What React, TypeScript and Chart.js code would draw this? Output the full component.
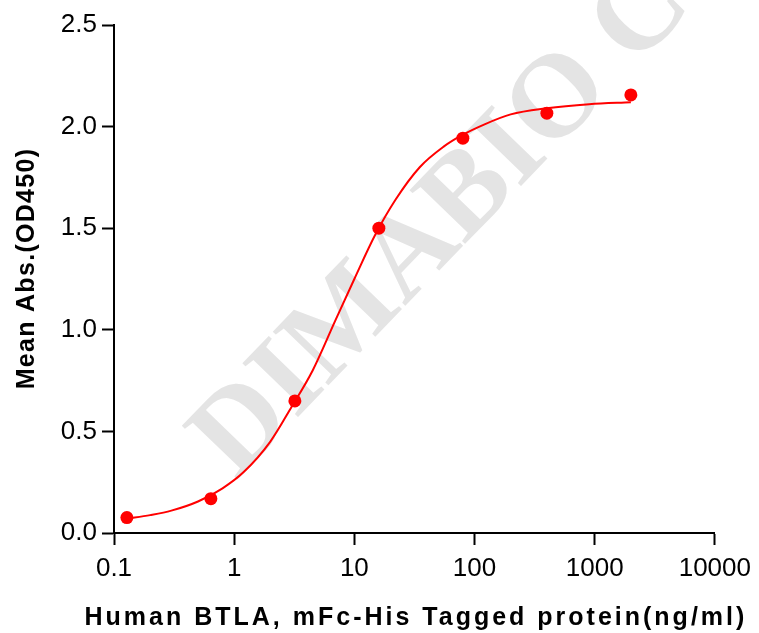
import React, { useEffect, useRef } from "react";
import { Chart, registerables } from "chart.js";

Chart.register(...registerables);

// Measured points
const concentrations = [0.128, 0.64, 3.2, 16, 80, 400, 2000];
const meanAbs = [0.076, 0.169, 0.65, 1.5, 1.943, 2.066, 2.156];

// Fitted curve
const fitX = [0.128, 0.2, 0.3, 0.5, 0.8, 1.2, 2, 3, 4.5, 7, 10, 15, 22, 35, 55, 80, 120, 200, 400, 900, 2000];
const fitY = [0.07, 0.088, 0.11, 0.155, 0.22, 0.3, 0.45, 0.62, 0.8, 1.05, 1.25, 1.47, 1.64, 1.8, 1.9, 1.96, 2.01, 2.06, 2.09, 2.11, 2.12];

const xTicks = [0.1, 1, 10, 100, 1000, 10000];
const xTickLabels = ["0.1", "1", "10", "100", "1000", "10000"];
const yTicks = [0, 0.5, 1, 1.5, 2, 2.5];
const yTickLabels = ["0.0", "0.5", "1.0", "1.5", "2.0", "2.5"];

const xTitle = "Human BTLA, mFc-His Tagged protein(ng/ml)";
const yTitle = "Mean Abs.(OD450)";
const watermark = "DIMABIO CO.,LTD";

const RED = "#ff0000";
const SANS = '"Liberation Sans", Arial, Helvetica, sans-serif';

const decorPlugin = {
  id: "decor",
  beforeDatasetsDraw(chart: any) {
    const ctx = chart.ctx;
    ctx.save();
    ctx.translate(236, 481);
    ctx.rotate((-46 * Math.PI) / 180);
    ctx.font = 'bold 118px "Liberation Serif", "Times New Roman", serif';
    ctx.fillStyle = "#e4e4e4";
    ctx.textAlign = "left";
    ctx.textBaseline = "alphabetic";
    ctx.fillText(watermark, 0, 0);
    ctx.restore();
  },
  afterDraw(chart: any) {
    const ctx = chart.ctx;
    const area = chart.chartArea;
    ctx.save();
    ctx.fillStyle = "#000";
    ctx.font = "bold 25px " + SANS;
    (ctx as any).letterSpacing = "3px";
    ctx.textAlign = "center";
    ctx.textBaseline = "alphabetic";
    ctx.fillText(xTitle, (area.left + area.right) / 2 + 1.5, 625);
    ctx.restore();

    ctx.save();
    ctx.fillStyle = "#000";
    ctx.font = "bold 25px " + SANS;
    (ctx as any).letterSpacing = "1.3px";
    ctx.translate(33.5, 268.5);
    ctx.rotate(-Math.PI / 2);
    ctx.textAlign = "center";
    ctx.textBaseline = "alphabetic";
    ctx.fillText(yTitle, 0, 0);
    ctx.restore();
  },
};

export default function App() {
  const canvasRef = useRef<HTMLCanvasElement | null>(null);

  useEffect(() => {
    if (!canvasRef.current) return;
    const chart = new Chart(canvasRef.current, {
      type: "scatter",
      data: {
        datasets: [
          {
            type: "scatter",
            data: concentrations.map((x, i) => ({ x, y: meanAbs[i] })),
            backgroundColor: RED,
            borderColor: RED,
            borderWidth: 0,
            pointRadius: 6.5,
            pointHoverRadius: 6.5,
          },
          {
            type: "line",
            data: fitX.map((x, i) => ({ x, y: fitY[i] })),
            borderColor: RED,
            borderWidth: 2,
            pointRadius: 0,
            fill: false,
            cubicInterpolationMode: "monotone",
          } as any,
        ],
      },
      options: {
        animation: false,
        responsive: true,
        maintainAspectRatio: false,
        layout: { padding: { top: 25, right: 42, left: 0, bottom: 0 } },
        plugins: {
          legend: { display: false },
          tooltip: { enabled: false },
        },
        scales: {
          x: {
            type: "logarithmic",
            position: "bottom",
            min: 0.1,
            max: 10000,
            afterBuildTicks: (s: any) => {
              s.ticks = xTicks.map((v) => ({ value: v }));
            },
            afterFit: (s: any) => {
              s.height = 100;
            },
            ticks: {
              autoSkip: false,
              maxRotation: 0,
              color: "#000",
              padding: 8,
              font: { size: 26, family: SANS },
              callback: (v: any) => xTickLabels[xTicks.indexOf(Number(v))] ?? "",
            },
            grid: {
              display: true,
              drawOnChartArea: false,
              drawTicks: true,
              tickLength: 12,
              tickWidth: 2,
              color: "#000",
            },
            border: { display: true, color: "#000", width: 2 },
          },
          y: {
            type: "linear",
            min: 0,
            max: 2.5,
            afterBuildTicks: (s: any) => {
              s.ticks = yTicks.map((v) => ({ value: v }));
            },
            afterFit: (s: any) => {
              s.width = 114;
            },
            ticks: {
              color: "#000",
              padding: 5,
              font: { size: 26, family: SANS },
              callback: (v: any) => yTickLabels[yTicks.indexOf(Number(v))] ?? "",
            },
            grid: {
              display: true,
              drawOnChartArea: false,
              drawTicks: true,
              tickLength: 12,
              tickWidth: 2,
              color: "#000",
            },
            border: { display: true, color: "#000", width: 2 },
          },
        },
      },
      plugins: [decorPlugin],
    });
    return () => chart.destroy();
  }, []);

  return (
    <div style={{ position: "fixed", left: 0, top: 0, width: 759, height: 633, background: "#fff" }}>
      <canvas ref={canvasRef} />
    </div>
  );
}
